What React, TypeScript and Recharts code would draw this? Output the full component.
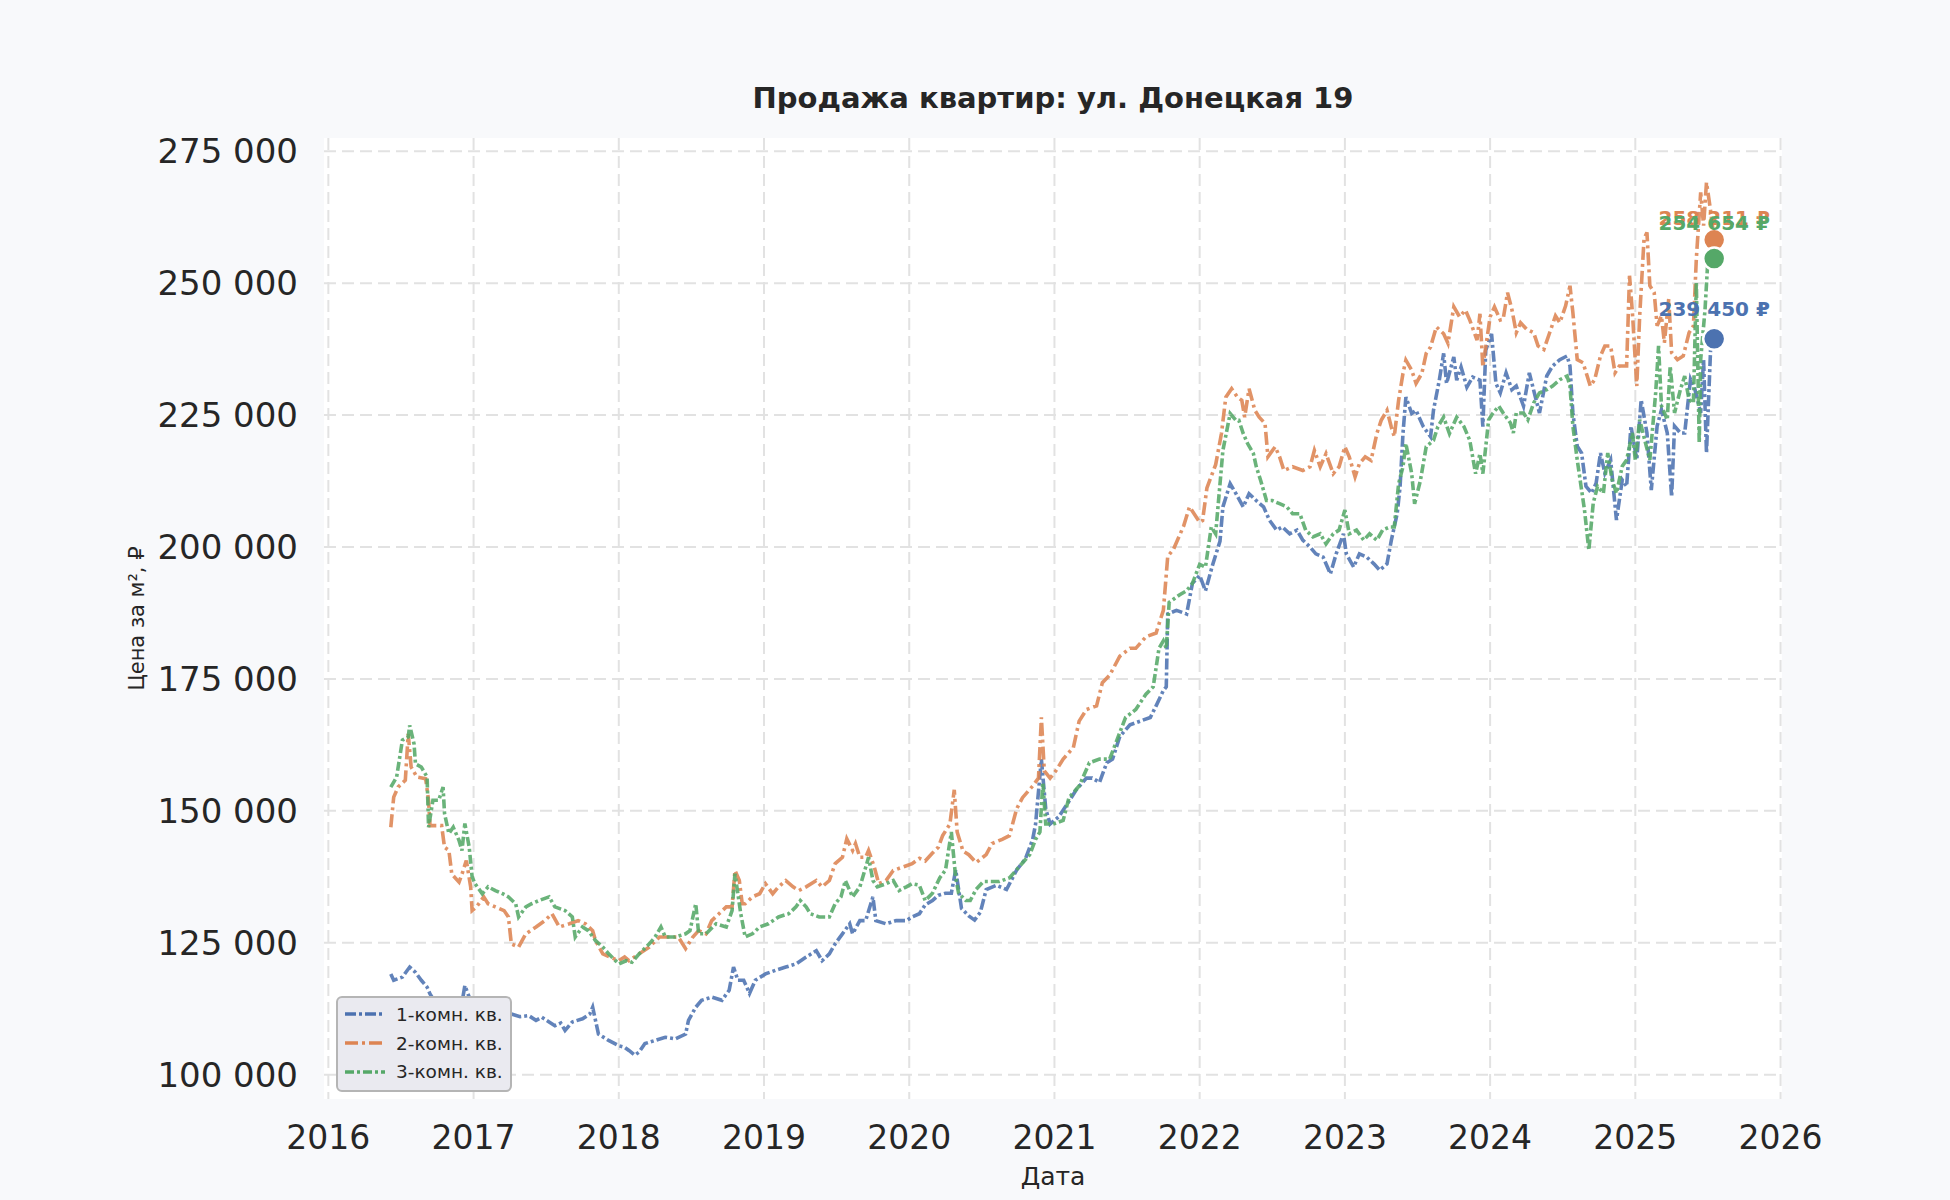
import { LineChart, Line, XAxis, YAxis, CartesianGrid, Legend, ReferenceDot } from "recharts";

// [year, price in thousands of rubles]
const ROOM_1: [number, number][] = [
  [2016.43, 119.1], [2016.45, 117.9], [2016.51, 118.5], [2016.56, 120.4], [2016.6, 119.4], [2016.64, 117.9],
  [2016.68, 116.6], [2016.7, 115.3], [2016.74, 113.5], [2016.79, 112.0], [2016.85, 111.0], [2016.91, 112.0],
  [2016.94, 116.9], [2016.97, 114.7], [2017.01, 111.5], [2017.08, 110.6], [2017.15, 111.3], [2017.21, 110.8],
  [2017.26, 111.5], [2017.32, 111.0], [2017.38, 111.2], [2017.43, 110.3], [2017.47, 110.9], [2017.52, 110.0],
  [2017.56, 109.3], [2017.6, 109.8], [2017.63, 108.4], [2017.68, 110.0], [2017.75, 110.6], [2017.8, 111.5],
  [2017.82, 112.8], [2017.86, 107.7], [2017.93, 106.5], [2018.0, 105.5], [2018.04, 105.2], [2018.07, 104.6],
  [2018.11, 103.7], [2018.14, 104.3], [2018.18, 105.9], [2018.25, 106.5], [2018.32, 107.1], [2018.39, 106.8],
  [2018.46, 107.7], [2018.48, 110.3], [2018.53, 112.8], [2018.57, 114.1], [2018.64, 114.7], [2018.71, 114.1],
  [2018.76, 116.0], [2018.79, 120.4], [2018.82, 117.9], [2018.86, 117.9], [2018.9, 115.4], [2018.94, 117.9],
  [2019.01, 119.1], [2019.08, 119.8], [2019.15, 120.4], [2019.22, 121.0], [2019.29, 122.3], [2019.36, 123.5],
  [2019.4, 121.6], [2019.45, 122.9], [2019.49, 124.8], [2019.54, 126.7], [2019.59, 128.6], [2019.61, 126.7],
  [2019.66, 129.2], [2019.7, 129.2], [2019.75, 133.7], [2019.77, 129.2], [2019.84, 128.6], [2019.91, 129.2],
  [2019.98, 129.2], [2020.02, 129.9], [2020.07, 130.5], [2020.11, 132.2], [2020.16, 133.0], [2020.2, 134.0],
  [2020.25, 134.4], [2020.29, 134.4], [2020.32, 138.8], [2020.36, 131.5], [2020.41, 130.1], [2020.45, 129.3],
  [2020.49, 130.8], [2020.53, 135.1], [2020.6, 135.9], [2020.67, 135.1], [2020.74, 138.8], [2020.8, 140.9],
  [2020.85, 144.6], [2020.87, 147.5], [2020.91, 159.8], [2020.94, 150.4], [2020.97, 147.5], [2021.03, 148.9],
  [2021.1, 151.8], [2021.15, 154.0], [2021.22, 156.2], [2021.26, 156.2], [2021.31, 155.4], [2021.36, 159.1],
  [2021.4, 159.8], [2021.45, 164.1], [2021.52, 166.3], [2021.59, 167.0], [2021.66, 167.7], [2021.7, 169.9],
  [2021.75, 172.8], [2021.77, 173.5], [2021.78, 187.3], [2021.84, 188.0], [2021.91, 187.3], [2021.95, 193.1],
  [2022.0, 194.6], [2022.04, 191.7], [2022.09, 196.7], [2022.14, 201.1], [2022.16, 207.6], [2022.21, 212.0],
  [2022.25, 210.1], [2022.3, 207.6], [2022.34, 210.1], [2022.39, 208.8], [2022.44, 207.6], [2022.48, 205.1],
  [2022.53, 203.2], [2022.57, 203.8], [2022.62, 202.5], [2022.67, 203.2], [2022.71, 201.3], [2022.76, 200.0],
  [2022.8, 198.7], [2022.85, 198.1], [2022.9, 194.9], [2022.94, 198.7], [2022.99, 202.5], [2023.01, 198.7],
  [2023.06, 196.2], [2023.1, 198.7], [2023.15, 198.1], [2023.2, 196.8], [2023.24, 195.6], [2023.29, 196.8],
  [2023.32, 201.3], [2023.36, 206.3], [2023.38, 211.4], [2023.4, 221.5], [2023.42, 228.4], [2023.46, 225.3],
  [2023.49, 225.9], [2023.54, 222.8], [2023.59, 220.9], [2023.61, 225.9], [2023.65, 231.6], [2023.68, 236.7],
  [2023.7, 231.0], [2023.75, 236.0], [2023.77, 231.6], [2023.8, 234.1], [2023.84, 230.3], [2023.88, 232.2],
  [2023.93, 231.6], [2023.95, 222.8], [2023.97, 237.3], [2024.01, 240.4], [2024.04, 231.0], [2024.07, 229.2],
  [2024.11, 233.0], [2024.15, 229.8], [2024.18, 230.5], [2024.23, 226.7], [2024.27, 233.0], [2024.31, 228.6],
  [2024.34, 225.4], [2024.39, 232.4], [2024.43, 234.3], [2024.48, 235.5], [2024.53, 236.2], [2024.55, 234.3],
  [2024.57, 225.4], [2024.6, 219.1], [2024.63, 217.8], [2024.66, 211.5], [2024.7, 210.2], [2024.73, 212.1],
  [2024.76, 217.8], [2024.79, 214.0], [2024.83, 216.5], [2024.87, 205.1], [2024.91, 212.7], [2024.94, 211.5],
  [2024.97, 222.9], [2025.01, 216.5], [2025.04, 227.9], [2025.08, 221.6], [2025.11, 210.8], [2025.15, 222.9],
  [2025.18, 226.0], [2025.22, 221.6], [2025.25, 209.5], [2025.27, 222.9], [2025.31, 221.6], [2025.34, 221.6],
  [2025.38, 231.8], [2025.41, 229.9], [2025.45, 225.4], [2025.47, 235.5], [2025.49, 217.8], [2025.52, 238.7],
  [2025.543, 239.45],
];

const ROOM_2: [number, number][] = [
  [2016.43, 146.9], [2016.45, 152.6], [2016.48, 154.5], [2016.53, 155.8], [2016.55, 164.6], [2016.57, 158.3],
  [2016.61, 156.4], [2016.67, 156.1], [2016.69, 152.0], [2016.7, 147.2], [2016.78, 147.2], [2016.8, 143.1],
  [2016.83, 142.5], [2016.85, 138.0], [2016.9, 136.5], [2016.92, 138.0], [2016.95, 140.6], [2016.98, 135.6],
  [2016.99, 131.1], [2017.02, 131.8], [2017.07, 133.7], [2017.1, 132.4], [2017.15, 131.8], [2017.21, 131.1],
  [2017.24, 129.9], [2017.26, 124.8], [2017.31, 124.2], [2017.36, 126.7], [2017.43, 128.0], [2017.49, 129.2],
  [2017.54, 130.5], [2017.59, 128.0], [2017.66, 128.6], [2017.72, 129.2], [2017.77, 128.6], [2017.82, 127.3],
  [2017.84, 125.4], [2017.89, 122.9], [2017.94, 122.3], [2018.0, 121.6], [2018.04, 122.3], [2018.07, 121.6],
  [2018.14, 122.9], [2018.21, 124.2], [2018.28, 126.1], [2018.34, 126.1], [2018.41, 126.1], [2018.46, 123.9],
  [2018.51, 126.1], [2018.55, 127.3], [2018.6, 126.7], [2018.64, 129.2], [2018.69, 130.5], [2018.74, 131.8],
  [2018.78, 131.8], [2018.8, 138.7], [2018.83, 136.8], [2018.85, 132.4], [2018.87, 132.4], [2018.92, 133.7],
  [2018.97, 134.3], [2019.01, 136.2], [2019.06, 134.3], [2019.1, 135.6], [2019.15, 136.8], [2019.2, 135.6],
  [2019.24, 134.9], [2019.29, 135.6], [2019.36, 136.8], [2019.4, 135.6], [2019.45, 136.8], [2019.49, 140.0],
  [2019.54, 141.2], [2019.57, 144.7], [2019.61, 142.5], [2019.63, 143.8], [2019.66, 141.2], [2019.7, 141.2],
  [2019.72, 142.5], [2019.76, 139.3], [2019.79, 136.2], [2019.84, 136.8], [2019.89, 138.7], [2019.95, 139.3],
  [2020.02, 140.0], [2020.07, 141.0], [2020.11, 140.5], [2020.16, 142.0], [2020.2, 143.1], [2020.23, 145.3],
  [2020.28, 147.5], [2020.31, 154.0], [2020.33, 146.0], [2020.37, 142.4], [2020.41, 141.7], [2020.46, 140.2],
  [2020.53, 141.7], [2020.57, 143.8], [2020.64, 144.6], [2020.69, 145.3], [2020.74, 150.4], [2020.78, 152.5],
  [2020.85, 154.7], [2020.89, 156.2], [2020.91, 167.7], [2020.93, 157.6], [2020.97, 156.2], [2021.01, 157.6],
  [2021.06, 159.8], [2021.13, 162.0], [2021.17, 167.0], [2021.22, 169.2], [2021.29, 169.9], [2021.33, 174.3],
  [2021.38, 175.7], [2021.45, 179.3], [2021.52, 180.8], [2021.56, 180.8], [2021.63, 183.0], [2021.7, 183.7],
  [2021.75, 188.0], [2021.78, 198.2], [2021.82, 199.6], [2021.89, 204.0], [2021.93, 207.6], [2022.0, 204.7],
  [2022.02, 205.0], [2022.05, 211.2], [2022.11, 215.6], [2022.15, 221.5], [2022.18, 228.4], [2022.22, 230.0],
  [2022.26, 228.4], [2022.29, 227.8], [2022.31, 224.6], [2022.34, 230.0], [2022.38, 225.9], [2022.41, 224.6],
  [2022.45, 223.4], [2022.47, 217.1], [2022.52, 219.0], [2022.55, 217.1], [2022.58, 214.5], [2022.64, 215.2],
  [2022.71, 214.5], [2022.76, 215.2], [2022.79, 218.3], [2022.83, 215.2], [2022.87, 217.7], [2022.92, 213.9],
  [2022.96, 215.2], [2023.0, 219.0], [2023.03, 217.1], [2023.07, 213.3], [2023.1, 215.8], [2023.14, 217.1],
  [2023.18, 216.4], [2023.22, 221.5], [2023.25, 224.0], [2023.29, 225.9], [2023.32, 222.7], [2023.34, 220.9],
  [2023.37, 227.8], [2023.4, 232.9], [2023.42, 235.4], [2023.46, 233.5], [2023.49, 231.0], [2023.53, 232.9],
  [2023.56, 236.7], [2023.59, 237.9], [2023.63, 241.7], [2023.68, 240.4], [2023.71, 238.6], [2023.75, 245.5],
  [2023.79, 243.6], [2023.83, 244.9], [2023.86, 243.0], [2023.91, 239.2], [2023.93, 244.2], [2023.95, 234.1],
  [2024.0, 243.6], [2024.03, 245.5], [2024.07, 243.0], [2024.09, 243.2], [2024.12, 248.2], [2024.15, 245.0],
  [2024.18, 240.6], [2024.21, 242.5], [2024.25, 241.3], [2024.3, 240.6], [2024.33, 238.1], [2024.37, 237.4],
  [2024.41, 240.6], [2024.45, 243.8], [2024.48, 242.5], [2024.52, 245.7], [2024.55, 249.5], [2024.57, 244.4],
  [2024.6, 235.5], [2024.64, 234.9], [2024.69, 230.5], [2024.72, 231.7], [2024.76, 236.2], [2024.79, 238.1],
  [2024.83, 238.1], [2024.86, 233.0], [2024.89, 234.3], [2024.94, 234.3], [2024.96, 251.4], [2024.98, 244.4],
  [2025.01, 230.5], [2025.03, 243.8], [2025.06, 258.4], [2025.08, 259.6], [2025.1, 249.5], [2025.13, 248.2],
  [2025.15, 241.9], [2025.18, 243.8], [2025.2, 238.7], [2025.23, 247.0], [2025.25, 236.8], [2025.29, 235.5],
  [2025.33, 236.2], [2025.37, 240.6], [2025.4, 241.9], [2025.42, 254.6], [2025.45, 267.2], [2025.47, 260.9],
  [2025.49, 269.1], [2025.52, 263.4], [2025.543, 258.211],
];

const ROOM_3: [number, number][] = [
  [2016.43, 154.5], [2016.47, 156.4], [2016.51, 163.4], [2016.55, 164.0], [2016.56, 166.2], [2016.59, 162.7],
  [2016.6, 158.9], [2016.64, 158.3], [2016.68, 156.4], [2016.69, 146.9], [2016.72, 152.0], [2016.76, 152.0],
  [2016.79, 154.5], [2016.8, 149.5], [2016.83, 145.7], [2016.86, 146.9], [2016.9, 144.4], [2016.92, 142.5],
  [2016.94, 147.6], [2016.97, 143.1], [2016.99, 137.5], [2017.01, 136.2], [2017.06, 134.3], [2017.1, 135.6],
  [2017.15, 134.9], [2017.2, 134.3], [2017.24, 133.7], [2017.29, 132.4], [2017.31, 129.9], [2017.36, 131.8],
  [2017.4, 132.4], [2017.45, 133.0], [2017.52, 133.7], [2017.56, 131.8], [2017.63, 131.1], [2017.68, 129.9],
  [2017.7, 126.1], [2017.75, 128.0], [2017.79, 127.3], [2017.84, 125.4], [2017.89, 124.2], [2017.93, 122.9],
  [2018.0, 121.0], [2018.05, 121.6], [2018.09, 121.3], [2018.14, 122.9], [2018.21, 124.8], [2018.25, 126.1],
  [2018.29, 128.0], [2018.32, 126.1], [2018.39, 126.1], [2018.46, 126.7], [2018.49, 127.3], [2018.53, 132.4],
  [2018.55, 126.7], [2018.6, 126.7], [2018.67, 128.6], [2018.74, 128.0], [2018.78, 131.1], [2018.8, 138.1],
  [2018.84, 130.5], [2018.87, 126.1], [2018.92, 126.7], [2018.97, 128.0], [2019.03, 128.6], [2019.1, 129.9],
  [2019.17, 130.5], [2019.22, 131.8], [2019.25, 133.0], [2019.29, 131.8], [2019.32, 130.5], [2019.38, 129.9],
  [2019.45, 129.9], [2019.49, 132.4], [2019.53, 133.7], [2019.56, 136.8], [2019.61, 133.7], [2019.66, 135.6],
  [2019.7, 139.3], [2019.72, 141.2], [2019.75, 136.8], [2019.78, 135.6], [2019.84, 136.2], [2019.89, 136.8],
  [2019.93, 134.9], [2019.98, 135.6], [2020.02, 136.2], [2020.07, 135.9], [2020.11, 133.0], [2020.16, 134.4],
  [2020.21, 137.3], [2020.25, 138.8], [2020.29, 146.0], [2020.32, 137.3], [2020.34, 134.4], [2020.39, 133.0],
  [2020.42, 133.0], [2020.46, 135.1], [2020.51, 136.6], [2020.55, 136.6], [2020.62, 136.6], [2020.69, 137.3],
  [2020.76, 139.5], [2020.83, 141.7], [2020.87, 144.6], [2020.9, 146.0], [2020.92, 155.4], [2020.94, 147.5],
  [2020.99, 147.5], [2021.06, 148.2], [2021.1, 152.5], [2021.17, 154.7], [2021.24, 159.1], [2021.31, 159.8],
  [2021.38, 159.8], [2021.43, 163.4], [2021.49, 167.7], [2021.56, 169.2], [2021.63, 172.1], [2021.68, 173.5],
  [2021.72, 180.8], [2021.75, 182.2], [2021.77, 180.8], [2021.79, 189.5], [2021.86, 190.9], [2021.91, 191.7],
  [2021.95, 193.1], [2022.0, 196.7], [2022.04, 196.2], [2022.08, 203.8], [2022.11, 202.5], [2022.16, 218.3],
  [2022.21, 225.3], [2022.25, 224.0], [2022.27, 224.0], [2022.3, 221.5], [2022.33, 219.6], [2022.37, 217.7],
  [2022.39, 215.2], [2022.42, 212.6], [2022.46, 208.8], [2022.5, 208.8], [2022.55, 208.2], [2022.6, 207.6],
  [2022.64, 206.3], [2022.69, 206.3], [2022.73, 203.2], [2022.78, 201.9], [2022.83, 202.5], [2022.87, 200.6],
  [2022.92, 202.5], [2022.96, 203.2], [2023.0, 207.0], [2023.03, 202.5], [2023.08, 203.2], [2023.13, 201.3],
  [2023.17, 202.5], [2023.22, 201.3], [2023.26, 203.2], [2023.31, 203.8], [2023.34, 203.8], [2023.37, 212.0],
  [2023.4, 215.2], [2023.42, 219.6], [2023.46, 213.9], [2023.48, 208.2], [2023.52, 212.6], [2023.56, 219.0],
  [2023.61, 220.2], [2023.64, 222.8], [2023.68, 224.6], [2023.72, 221.5], [2023.77, 224.6], [2023.82, 222.8],
  [2023.86, 220.2], [2023.9, 213.9], [2023.93, 217.7], [2023.95, 213.9], [2023.99, 224.1], [2024.02, 225.4],
  [2024.06, 226.7], [2024.09, 225.4], [2024.14, 223.5], [2024.16, 221.6], [2024.18, 225.4], [2024.23, 225.4],
  [2024.26, 224.1], [2024.3, 227.3], [2024.34, 229.2], [2024.39, 229.8], [2024.43, 230.5], [2024.48, 231.7],
  [2024.53, 232.4], [2024.55, 230.5], [2024.57, 222.9], [2024.6, 216.5], [2024.62, 212.7], [2024.65, 207.0],
  [2024.68, 199.4], [2024.71, 208.3], [2024.74, 211.5], [2024.78, 210.2], [2024.81, 217.8], [2024.84, 212.7],
  [2024.87, 210.2], [2024.91, 215.3], [2024.94, 216.5], [2024.98, 221.6], [2025.0, 216.5], [2025.03, 224.1],
  [2025.07, 219.7], [2025.1, 216.5], [2025.14, 229.2], [2025.16, 238.1], [2025.18, 226.7], [2025.22, 224.1],
  [2025.24, 234.3], [2025.27, 225.4], [2025.31, 229.8], [2025.34, 232.4], [2025.37, 227.9], [2025.4, 227.3],
  [2025.42, 250.1], [2025.44, 219.7], [2025.45, 235.5], [2025.48, 245.0], [2025.5, 254.6], [2025.543, 254.654],
];

const SERIES_NAMES = ["1-комн. кв.", "2-комн. кв.", "3-комн. кв."];
const YEAR_TICKS = [2016, 2017, 2018, 2019, 2020, 2021, 2022, 2023, 2024, 2025, 2026];
const PRICE_TICKS = [100000, 125000, 150000, 175000, 200000, 225000, 250000, 275000];

const FONT = "'DejaVu Sans', sans-serif";
const TEXT = "#262626";

const SERIES = [
  { id: "r1", name: SERIES_NAMES[0], color: "#4c72b0", dash: "11 3 3 3", points: ROOM_1, labelDy: -30 },
  { id: "r2", name: SERIES_NAMES[1], color: "#dd8452", dash: "13 4 3 4", points: ROOM_2, labelDy: -22 },
  { id: "r3", name: SERIES_NAMES[2], color: "#55a868", dash: "9 3 3 3", points: ROOM_3, labelDy: -36 },
];

const toRows = (pts: [number, number][]) => pts.map(([x, v]) => ({ x, y: v * 1000 }));
const fmtPrice = (v: number) => String(Math.round(v)).replace(/\B(?=(\d{3})+(?!\d))/g, " ");

function LegendBox() {
  return (
    <div
      style={{
        width: 172,
        height: 88,
        background: "#eaeaf0",
        border: "2px solid #b5b5b5",
        borderRadius: 6,
        boxSizing: "content-box",
        padding: "2px 0",
      }}
    >
      {SERIES.map((s) => (
        <div key={s.id} style={{ display: "flex", alignItems: "center", height: 28.7 }}>
          <svg width={46} height={12} style={{ marginLeft: 6 }}>
            <line x1={1} y1={6} x2={41} y2={6} stroke={s.color} strokeWidth={3.5} strokeDasharray={s.dash} />
          </svg>
          <span style={{ fontFamily: FONT, fontSize: 18.5, color: TEXT, marginLeft: 6 }}>{s.name}</span>
        </div>
      ))}
    </div>
  );
}

export default function App() {
  return (
    <div
      style={{
        position: "absolute",
        left: 0,
        top: 0,
        width: 1950,
        height: 1200,
        background: "#f8f9fb",
        fontFamily: FONT,
      }}
    >
      <div
        style={{
          position: "absolute",
          left: 324,
          width: 1458,
          top: 84,
          textAlign: "center",
          fontSize: 29,
          lineHeight: "29px",
          fontWeight: "bold",
          color: TEXT,
        }}
      >
        Продажа квартир: ул. Донецкая 19
      </div>
      <LineChart width={1950} height={1200} margin={{ top: 138, right: 168, bottom: 1, left: 124 }}>
        <CartesianGrid fill="#ffffff" stroke="none" horizontal={false} vertical={false} />
        <CartesianGrid fill="none" stroke="#e2e2e2" strokeWidth={2} strokeDasharray="12 6" syncWithTicks />
        <XAxis
          type="number"
          dataKey="x"
          domain={[2015.97, 2026.01]}
          ticks={YEAR_TICKS}
          allowDataOverflow
          height={100}
          axisLine={false}
          tickLine={false}
          tickSize={0}
          tickMargin={27}
          tick={{ fontSize: 33, fill: TEXT, fontFamily: FONT }}
          label={(p: any) => (
            <text
              x={p.viewBox.x + p.viewBox.width / 2}
              y={p.viewBox.y + 86}
              textAnchor="middle"
              fontSize={25}
              fill={TEXT}
              fontFamily={FONT}
            >
              Дата
            </text>
          )}
        />
        <YAxis
          type="number"
          domain={[95400, 277500]}
          ticks={PRICE_TICKS}
          allowDataOverflow
          width={200}
          axisLine={false}
          tickLine={false}
          tickSize={0}
          tickMargin={26}
          tickFormatter={fmtPrice}
          tick={{ fontSize: 34, fill: TEXT, fontFamily: FONT }}
          label={(p: any) => {
            const cx = p.viewBox.x + 13;
            const cy = p.viewBox.y + p.viewBox.height / 2;
            return (
              <text
                x={cx}
                y={cy}
                transform={`rotate(-90 ${cx} ${cy})`}
                textAnchor="middle"
                dominantBaseline="central"
                fontSize={21}
                fill={TEXT}
                fontFamily={FONT}
              >
                Цена за м², ₽
              </text>
            );
          }}
        />
        {SERIES.map((s) => (
          <Line
            key={s.id}
            data={toRows(s.points)}
            dataKey="y"
            name={s.name}
            type="linear"
            stroke={s.color}
            strokeWidth={3.6}
            strokeOpacity={0.88}
            strokeDasharray={s.dash}
            dot={false}
            activeDot={false}
            isAnimationActive={false}
          />
        ))}
        {SERIES.map((s) => {
          const [lx, lv] = s.points[s.points.length - 1];
          return (
            <ReferenceDot
              key={`end-${s.id}`}
              x={lx}
              y={lv * 1000}
              r={11}
              shape={(p: any) => (
                <g>
                  <circle cx={p.cx} cy={p.cy} r={11} fill={s.color} stroke="#ffffff" strokeWidth={2.5} />
                  <text
                    x={p.cx}
                    y={p.cy + s.labelDy}
                    textAnchor="middle"
                    dominantBaseline="central"
                    fontSize={20}
                    fontWeight="bold"
                    fill={s.color}
                    fontFamily={FONT}
                  >
                    {fmtPrice(lv * 1000)} ₽
                  </text>
                </g>
              )}
            />
          );
        })}
        <Legend
          layout="vertical"
          align="center"
          verticalAlign="middle"
          content={() => <LegendBox />}
          wrapperStyle={{ left: 336, top: 996, width: 176, height: 92 }}
        />
      </LineChart>
    </div>
  );
}
